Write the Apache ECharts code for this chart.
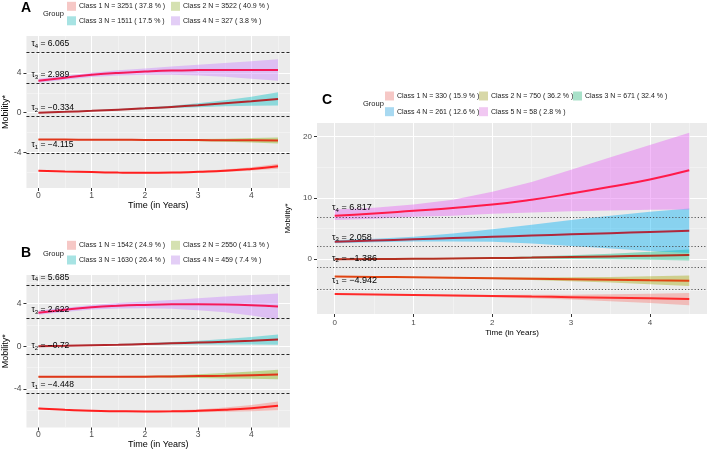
<!DOCTYPE html>
<html lang="en">
<head>
<meta charset="utf-8">
<script src="https://cdn.jsdelivr.net/npm/echarts@6/dist/echarts.min.js"></script>
<style>
  html, body { margin: 0; padding: 0; background: #fff; }
  #chart { width: 708px; height: 452px; }
</style>
</head>
<body>
<div id="chart"></div>
<script>
// time points (years)
var years = [0, 0.5, 1, 1.5, 2, 2.5, 3, 3.5, 4, 4.5];
var xMajor = [0, 1, 2, 3, 4];
var xMinor = [0.5, 1.5, 2.5, 3.5, 4.5];

// ---- panel A ----
var namesA = ['Class 1 N = 3251 ( 37.8 % )', 'Class 2 N = 3522 ( 40.9 % )', 'Class 3 N = 1511 ( 17.5 % )', 'Class 4 N = 327 ( 3.8 % )'];
var tauA = [-4.115, -0.334, 2.989, 6.065];
var meanA = [
  [-5.84, -5.92, -5.98, -6.03, -6.05, -6.03, -5.95, -5.85, -5.66, -5.40],
  [-2.70, -2.71, -2.72, -2.73, -2.74, -2.75, -2.76, -2.77, -2.78, -2.80],
  [0.00, 0.08, 0.18, 0.30, 0.43, 0.58, 0.75, 0.95, 1.15, 1.38],
  [3.20, 3.52, 3.80, 4.00, 4.13, 4.23, 4.28, 4.30, 4.30, 4.28]
];
var lowA = [
  [-5.89, -5.97, -6.03, -6.08, -6.11, -6.10, -6.04, -5.97, -5.83, -5.65],
  [-2.74, -2.75, -2.76, -2.78, -2.80, -2.83, -2.87, -2.92, -3.00, -3.10],
  [-0.05, 0.03, 0.13, 0.24, 0.35, 0.46, 0.55, 0.65, 0.69, 0.71],
  [3.00, 3.32, 3.58, 3.74, 3.81, 3.81, 3.73, 3.60, 3.42, 3.20]
];
var highA = [
  [-5.79, -5.87, -5.93, -5.98, -5.99, -5.96, -5.86, -5.73, -5.49, -5.15],
  [-2.66, -2.67, -2.68, -2.68, -2.68, -2.67, -2.65, -2.62, -2.56, -2.50],
  [0.05, 0.13, 0.23, 0.36, 0.51, 0.70, 0.95, 1.25, 1.61, 2.05],
  [3.40, 3.72, 4.02, 4.26, 4.45, 4.65, 4.83, 5.00, 5.18, 5.36]
];

// ---- panel B ----
var namesB = ['Class 1 N = 1542 ( 24.9 % )', 'Class 2 N = 2550 ( 41.3 % )', 'Class 3 N = 1630 ( 26.4 % )', 'Class 4 N = 459 ( 7.4 % )'];
var tauB = [-4.448, -0.72, 2.622, 5.685];
var meanB = [
  [-5.85, -5.97, -6.07, -6.11, -6.13, -6.12, -6.07, -5.97, -5.82, -5.60],
  [-2.88, -2.88, -2.88, -2.87, -2.86, -2.84, -2.81, -2.77, -2.72, -2.66],
  [0.00, 0.04, 0.09, 0.14, 0.20, 0.27, 0.34, 0.42, 0.51, 0.62],
  [3.15, 3.42, 3.66, 3.80, 3.88, 3.93, 3.94, 3.92, 3.85, 3.72]
];
var lowB = [
  [-5.91, -6.03, -6.13, -6.17, -6.20, -6.21, -6.20, -6.17, -6.11, -6.01],
  [-2.93, -2.93, -2.93, -2.93, -2.94, -2.96, -2.99, -3.03, -3.06, -3.10],
  [-0.05, -0.01, 0.04, 0.08, 0.12, 0.15, 0.16, 0.16, 0.15, 0.14],
  [2.95, 3.22, 3.44, 3.54, 3.56, 3.51, 3.38, 3.18, 2.89, 2.50]
];
var highB = [
  [-5.79, -5.91, -6.01, -6.05, -6.06, -6.03, -5.94, -5.77, -5.53, -5.19],
  [-2.83, -2.83, -2.83, -2.81, -2.78, -2.72, -2.63, -2.51, -2.38, -2.22],
  [0.05, 0.09, 0.14, 0.20, 0.28, 0.39, 0.52, 0.68, 0.87, 1.10],
  [3.35, 3.62, 3.88, 4.06, 4.20, 4.35, 4.50, 4.66, 4.81, 4.94]
];

// ---- panel C ----
var namesC = ['Class 1 N = 330 ( 15.9 % )', 'Class 2 N = 750 ( 36.2 % )', 'Class 3 N = 671 ( 32.4 % )', 'Class 4 N = 261 ( 12.6 % )', 'Class 5 N = 58 ( 2.8 % )'];
var tauC = [-4.942, -1.386, 2.058, 6.817];
var meanC = [
  [-5.68, -5.76, -5.84, -5.92, -6.00, -6.09, -6.18, -6.28, -6.38, -6.49],
  [-2.82, -2.88, -2.95, -3.02, -3.10, -3.18, -3.26, -3.35, -3.43, -3.52],
  [0.00, 0.03, 0.07, 0.12, 0.18, 0.26, 0.35, 0.45, 0.57, 0.70],
  [2.86, 3.05, 3.25, 3.45, 3.65, 3.85, 4.05, 4.25, 4.45, 4.64],
  [7.10, 7.45, 7.90, 8.35, 8.90, 9.70, 10.70, 11.80, 13.00, 14.50]
];
var lowC = [
  [-5.73, -5.82, -5.92, -6.04, -6.18, -6.37, -6.58, -6.84, -7.14, -7.49],
  [-2.87, -2.93, -3.01, -3.10, -3.22, -3.38, -3.58, -3.81, -4.07, -4.37],
  [-0.05, -0.02, 0.01, 0.04, 0.06, 0.06, 0.05, 0.00, -0.08, -0.20],
  [2.60, 2.75, 2.90, 2.90, 2.86, 2.55, 2.16, 1.75, 1.35, 1.00],
  [6.40, 6.60, 6.90, 7.10, 7.40, 7.60, 7.80, 7.95, 8.05, 8.10]
];
var highC = [
  [-5.63, -5.70, -5.76, -5.80, -5.82, -5.81, -5.78, -5.72, -5.62, -5.49],
  [-2.77, -2.83, -2.89, -2.94, -2.98, -2.98, -2.94, -2.89, -2.79, -2.67],
  [0.05, 0.08, 0.13, 0.20, 0.30, 0.46, 0.65, 0.90, 1.22, 1.60],
  [3.10, 3.35, 3.65, 4.20, 4.87, 5.60, 6.40, 7.10, 7.73, 8.28],
  [8.10, 8.40, 8.90, 9.70, 11.00, 12.60, 14.60, 16.60, 18.60, 20.60]
];

var FONT = '"Liberation Sans", Arial, sans-serif';

var panels = [
  {
    key: 'A', grid: { left: 22, top: 36, width: 268, height: 152 }, yMin: -7.58, yMax: 7.71,
    yMajor: [-4, 0, 4], yMinor: [-6, -2, 2, 6],
    names: namesA, tau: tauA, mean: meanA, low: lowA, high: highA,
    lineColors: ['#ff1f1f', '#e0361a', '#b3262b', '#f5195a'],
    bandColors: ['rgba(248,118,109,0.4)', 'rgba(124,174,0,0.4)', 'rgba(0,191,196,0.4)', 'rgba(199,124,255,0.4)'],
    keyColors: ['#f6c8c6', '#d5e1b1', '#a7e3e3', '#e3cef6'],
    keyPos: [[67, 1.8], [171, 1.8], [67, 16.3], [171, 16.3]],
    letter: [21, 8.5], group: [43, 14],
    tickFs: 8.5, titleFs: 9, xMargin: 3.5, xGap: 13, yGap: 11,
    tauDash: [3, 2], tauColor: '#111', tauDist: [5, 3], tauFs: 8.5
  },
  {
    key: 'B', grid: { left: 22, top: 275, width: 268, height: 152.5 }, yMin: -7.64, yMax: 6.69,
    yMajor: [-4, 0, 4], yMinor: [-6, -2, 2, 6],
    names: namesB, tau: tauB, mean: meanB, low: lowB, high: highB,
    lineColors: ['#ff1f1f', '#e0361a', '#b3262b', '#f5195a'],
    bandColors: ['rgba(248,118,109,0.4)', 'rgba(124,174,0,0.4)', 'rgba(0,191,196,0.4)', 'rgba(199,124,255,0.4)'],
    keyColors: ['#f6c8c6', '#d5e1b1', '#a7e3e3', '#e3cef6'],
    keyPos: [[67, 240.8], [171, 240.8], [67, 255.5], [171, 255.5]],
    letter: [21, 253.5], group: [43, 254],
    tickFs: 8.5, titleFs: 9, xMargin: 3, xGap: 13, yGap: 11,
    tauDash: [3, 2], tauColor: '#111', tauDist: [5, 3], tauFs: 8.5
  },
  {
    key: 'C', grid: { left: 317, top: 123, width: 390, height: 191 }, yMin: -8.93, yMax: 22.2,
    yMajor: [0, 10, 20], yMinor: [-5, 5, 15],
    names: namesC, tau: tauC, mean: meanC, low: lowC, high: highC,
    lineColors: ['#ff2a2a', '#e04412', '#b33020', '#b0283c', '#ff1a4a'],
    bandColors: ['rgba(248,118,109,0.4)', 'rgba(163,165,0,0.4)', 'rgba(0,191,125,0.4)', 'rgba(0,176,246,0.42)', 'rgba(231,107,243,0.45)'],
    keyColors: ['#f6c8c6', '#d8d8a8', '#a8e1c9', '#a8d9f1', '#f1c8f2'],
    keyPos: [[385, 91.5], [479, 91.5], [573, 91.5], [385, 107.2], [479, 107.2]],
    letter: [322, 100], group: [363, 104],
    tickFs: 8, titleFs: 8, xMargin: 4.4, xGap: 14.4, yGap: 11,
    tauDash: [1.2, 2], tauColor: '#444', tauDist: [15, 4], tauFs: 9
  }
];

function pairs(ys) {
  return years.map(function (t, i) { return [t, ys[i]]; });
}
function bandRows(lo, hi) {
  return years.map(function (t, i) { return [t, lo[i], hi[i]]; });
}
function tauText(i, v) {
  var s = String(v).replace('-', '\u2212');
  return '{t|\u03c4}{s|' + (i + 1) + '}{t| = ' + s + '}';
}
// one polygon per band: lower edge forward, upper edge back
function bandRenderer(fill) {
  return function (params, api) {
    if (params.dataIndex !== 0) return null;
    var n = params.dataInsideLength, pts = [], j;
    for (j = 0; j < n; j++) pts.push(api.coord([api.value(0, j), api.value(1, j)]));
    for (j = n - 1; j >= 0; j--) pts.push(api.coord([api.value(0, j), api.value(2, j)]));
    return { type: 'polygon', shape: { points: pts }, style: { fill: fill }, silent: true };
  };
}

var grids = [], xAxes = [], yAxes = [], series = [], legends = [], graphics = [];

panels.forEach(function (p, gi) {
  grids.push({
    left: p.grid.left, top: p.grid.top, width: p.grid.width, height: p.grid.height,
    show: true, backgroundColor: '#ebebeb', borderWidth: 0, containLabel: false
  });
  var xi = xAxes.length, yi = yAxes.length;
  xAxes.push({
    type: 'value', gridIndex: gi, min: -0.225, max: 4.725, position: 'bottom',
    name: 'Time (in Years)', nameLocation: 'middle', nameGap: p.xGap,
    nameTextStyle: { fontSize: p.titleFs, color: '#000', fontFamily: FONT },
    axisLine: { show: false, onZero: false },
    axisTick: { show: true, length: 3, lineStyle: { color: '#333', width: 1 }, customValues: xMajor },
    axisLabel: { customValues: xMajor, margin: p.xMargin, fontSize: p.tickFs, color: '#4d4d4d', fontFamily: FONT },
    splitLine: { show: true, lineStyle: { color: '#ffffff', width: 1 } }
  });
  xAxes.push({
    type: 'value', gridIndex: gi, min: -0.225, max: 4.725, position: 'bottom',
    axisLine: { show: false, onZero: false }, axisTick: { show: false, customValues: xMinor },
    axisLabel: { show: false, customValues: xMinor },
    splitLine: { show: true, lineStyle: { color: '#f6f6f6', width: 0.6 } }
  });
  yAxes.push({
    type: 'value', gridIndex: gi, min: p.yMin, max: p.yMax, position: 'left',
    name: 'Mobility*', nameLocation: 'middle', nameGap: p.yGap,
    nameTextStyle: { fontSize: p.titleFs, color: '#000', fontFamily: FONT },
    axisLine: { show: false, onZero: false },
    axisTick: { show: true, length: 3, lineStyle: { color: '#333', width: 1 }, customValues: p.yMajor },
    axisLabel: { customValues: p.yMajor, margin: 5, fontSize: p.tickFs, color: '#4d4d4d', fontFamily: FONT },
    splitLine: { show: true, lineStyle: { color: '#ffffff', width: 1 } }
  });
  yAxes.push({
    type: 'value', gridIndex: gi, min: p.yMin, max: p.yMax, position: 'left',
    axisLine: { show: false, onZero: false }, axisTick: { show: false, customValues: p.yMinor },
    axisLabel: { show: false, customValues: p.yMinor },
    splitLine: { show: true, lineStyle: { color: '#f6f6f6', width: 0.6 } }
  });

  // confidence bands
  p.names.forEach(function (nm, k) {
    series.push({
      type: 'custom', name: nm, xAxisIndex: xi, yAxisIndex: yi,
      data: bandRows(p.low[k], p.high[k]), encode: { x: 0, y: [1, 2] },
      itemStyle: { color: p.keyColors[k] },
      renderItem: bandRenderer(p.bandColors[k]), silent: true, z: 2
    });
  });
  // mean trajectories
  p.names.forEach(function (nm, k) {
    series.push({
      type: 'line', name: p.key + ' mean ' + k, xAxisIndex: xi, yAxisIndex: yi,
      data: pairs(p.mean[k]), smooth: true, symbol: 'none',
      lineStyle: { color: p.lineColors[k], width: 2 }, silent: true, z: 3
    });
  });
  // thresholds
  series.push({
    type: 'line', name: p.key + ' thresholds', xAxisIndex: xi, yAxisIndex: yi, data: [], z: 4,
    markLine: {
      silent: true, symbol: ['none', 'none'], animation: false,
      lineStyle: { color: p.tauColor, type: p.tauDash, width: 0.9 },
      label: {
        show: true, position: 'insideStartTop', distance: p.tauDist,
        rich: {
          t: { fontSize: p.tauFs, color: '#000', fontFamily: FONT },
          s: { fontSize: 6, color: '#000', fontFamily: FONT, padding: [5, 0, 0, 0] }
        }
      },
      data: p.tau.map(function (v, i) {
        return { yAxis: v, label: { formatter: function () { return tauText(i, v); } } };
      })
    }
  });

  // legend keys, one legend per key so they line up in columns
  p.names.forEach(function (nm, k) {
    legends.push({
      left: p.keyPos[k][0], top: p.keyPos[k][1], padding: 0, itemGap: 0,
      itemWidth: 9, itemHeight: 9, icon: 'rect', selectedMode: false,
      textStyle: { fontSize: 7, color: '#1a1a1a', fontFamily: FONT, padding: [0, 0, 0, -2] },
      data: [{ name: nm, itemStyle: { color: p.keyColors[k], borderWidth: 0 } }]
    });
  });

  graphics.push({
    type: 'text', x: p.letter[0], y: p.letter[1],
    style: { text: p.key, fontSize: 14, fontWeight: 'bold', fontFamily: FONT, fill: '#000', verticalAlign: 'middle' }
  });
  graphics.push({
    type: 'text', x: p.group[0], y: p.group[1],
    style: { text: 'Group', fontSize: 7.5, fontFamily: FONT, fill: '#1a1a1a', verticalAlign: 'middle' }
  });
});

var chart = echarts.init(document.getElementById('chart'));
chart.setOption({
  animation: false,
  backgroundColor: '#ffffff',
  grid: grids,
  xAxis: xAxes,
  yAxis: yAxes,
  legend: legends,
  graphic: graphics,
  series: series
});
</script>
</body>
</html>
